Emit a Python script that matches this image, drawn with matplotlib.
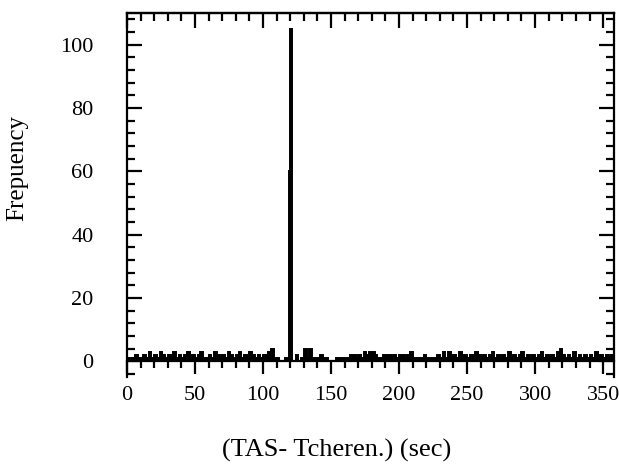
import numpy as np
import matplotlib
matplotlib.use("Agg")
import matplotlib.pyplot as plt
from matplotlib.ticker import MultipleLocator

# histogram: 2 sec bins, 1 sec bins around the peak
edges = np.concatenate([np.arange(0, 118, 2), np.arange(118, 122, 1), np.arange(122, 359, 2)])
counts = [
    1, 0, 1, 2, 1, 1, 2, 1, 3, 1,      # 0-20
    2, 1, 3, 2, 1, 2, 1, 3, 1, 2,      # 20-40
    1, 2, 3, 1, 2, 1, 2, 3, 1, 1,      # 40-60
    2, 1, 3, 2, 1, 2, 1, 3, 2, 1,      # 60-80
    2, 3, 1, 2, 1, 3, 2, 1, 2, 1,      # 80-100
    2, 2, 3, 4, 1, 1, 0, 0, 1,         # 100-118
    1, 60, 105, 0,                     # 118-122 (1 sec)
    0, 2, 0, 1, 4, 1, 4, 1,            # 122-138
    1, 1, 2, 1, 1, 0, 0, 0, 1, 1,      # 138-158
    1, 1, 1, 2, 2, 1, 2, 1, 3, 2,      # 158-178
    3, 3, 2, 1, 1, 2, 2, 2, 2, 2,      # 178-198
    1, 2, 2, 1, 2, 3, 1, 1, 1, 1,      # 198-218
    2, 1, 1, 1, 1, 2, 1, 3, 1, 3,      # 218-238
    1, 2, 1, 3, 1, 2, 1, 2, 1, 3,      # 238-258
    2, 1, 2, 1, 2, 3, 1, 2, 1, 2,      # 258-278
    1, 3, 1, 2, 1, 2, 3, 1, 2, 1,      # 278-298
    2, 1, 2, 3, 1, 2, 1, 2, 1, 3,      # 298-318
    4, 2, 1, 2, 1, 3, 1, 2, 1, 2,      # 318-338
    1, 2, 1, 3, 1, 2, 1, 2, 1, 2,      # 338-358
]

xticks = [0, 50, 100, 150, 200, 250, 300, 350]
yticks = [0, 20, 40, 60, 80, 100]

plt.rcParams['font.family'] = ['Liberation Serif', 'DejaVu Serif']

fig = plt.figure(figsize=(6.19, 4.65), dpi=100)
ax = fig.add_axes([127/619, 1 - 377/465, 487/619, 364/465])

ax.stairs(counts, edges, color='black', fill=True)
ax.stairs(counts, edges, color='black', linewidth=1.4)

ax.set_xlim(0, 358)
ax.set_ylim(-5, 110)

# x axis drawn at y = 0, left spine runs below it
ax.spines['bottom'].set_position(('data', 0))
for s in ax.spines.values():
    s.set_linewidth(1.6)

ax.set_xticks(xticks)
ax.set_yticks(yticks)
ax.xaxis.set_minor_locator(MultipleLocator(10))
ax.yaxis.set_minor_locator(MultipleLocator(4))

ax.tick_params(axis='x', which='both', direction='out', top=False, width=1.6,
               labelsize=16, pad=9)
ax.tick_params(axis='x', which='major', length=9)
ax.tick_params(axis='x', which='minor', length=5)
ax.tick_params(axis='y', which='both', direction='in', right=True, width=1.6,
               labelsize=16, pad=24)
ax.tick_params(axis='y', which='major', length=11)
ax.tick_params(axis='y', which='minor', length=6)

# top ticks point inward, no labels
top = ax.secondary_xaxis('top')
top.set_xticks(xticks)
top.xaxis.set_minor_locator(MultipleLocator(10))
top.tick_params(which='both', direction='in', width=1.6, labeltop=False)
top.tick_params(which='major', length=11)
top.tick_params(which='minor', length=6)
top.spines['top'].set_linewidth(1.6)

ax.set_xlabel('(TAS- Tcheren.) (sec)', fontsize=19)
ax.set_ylabel('Frepuency', fontsize=18)
ax.xaxis.set_label_coords(0.431, -0.17)
ax.yaxis.set_label_coords(-0.203, 0.574)

plt.savefig('out.png', dpi=100)
